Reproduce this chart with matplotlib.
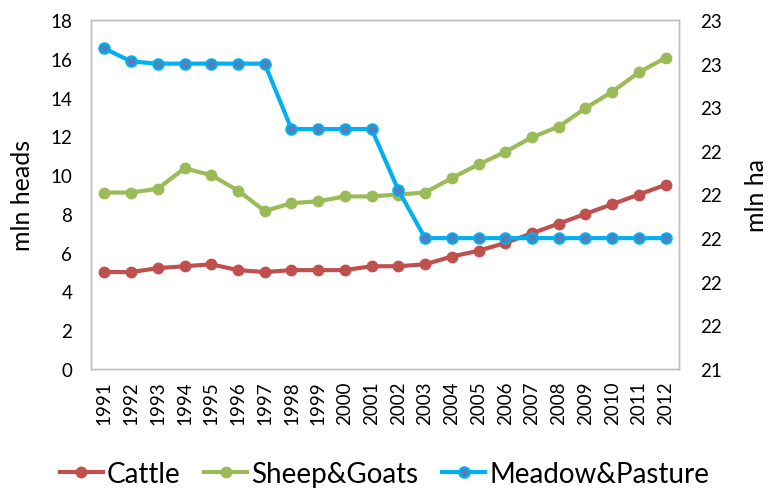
import matplotlib
matplotlib.use("Agg")
import matplotlib.pyplot as plt

plt.rcParams['font.family'] = ['Lato', 'DejaVu Sans']

years = [str(y) for y in range(1991, 2013)]
cattle = [5.0, 5.0, 5.2, 5.3, 5.4, 5.1, 5.0, 5.1, 5.1, 5.1, 5.3,
          5.3, 5.4, 5.8, 6.1, 6.5, 7.0, 7.5, 8.0, 8.5, 9.0, 9.5]
sheep_goats = [9.1, 9.1, 9.3, 10.35, 10.0, 9.2, 8.15, 8.55, 8.65, 8.9, 8.9,
               9.0, 9.1, 9.85, 10.55, 11.2, 11.95, 12.5, 13.45, 14.3, 15.3, 16.05]
meadow = [22.87, 22.81, 22.80, 22.80, 22.80, 22.80, 22.80, 22.50, 22.50, 22.50, 22.50,
          22.22, 22.0, 22.0, 22.0, 22.0, 22.0, 22.0, 22.0, 22.0, 22.0, 22.0]

left_ticks = list(range(0, 19, 2))
right_ticks = [21.4, 21.6, 21.8, 22.0, 22.2, 22.4, 22.6, 22.8, 23.0]

red = '#C0504D'
green = '#9BBB59'
cyan = '#00B0F0'
blue_fill = '#4F81BD'
spine_col = '#BFBFBF'

fig = plt.figure(figsize=(7.69, 4.89), dpi=100)
ax = fig.add_axes([91/769, 1 - 370/489, (679 - 91)/769, (370 - 21)/489])
ax2 = ax.twinx()

x = range(len(years))
h1, = ax.plot(x, cattle, color=red, lw=3, marker='o', ms=7.5, label='Cattle')
h2, = ax.plot(x, sheep_goats, color=green, lw=3, marker='o', ms=7.5, label='Sheep&Goats')
h3, = ax2.plot(x, meadow, color=cyan, lw=3, marker='o', ms=7.5,
               markerfacecolor=blue_fill, markeredgecolor=cyan, markeredgewidth=1.5,
               label='Meadow&Pasture')

ax.set_xlim(-0.5, len(years) - 0.5)
ax.set_ylim(0, 18)
ax.set_yticks(left_ticks)
ax2.set_ylim(21.4, 23.0)
ax2.set_yticks(right_ticks)
ax2.set_yticklabels([f'{v:.0f}' for v in right_ticks])

ax.set_xticks(list(x))
ax.set_xticklabels(years, rotation=90)

for a in (ax, ax2):
    a.tick_params(length=0, labelsize=13.5, colors='#000000')
    for s in a.spines.values():
        s.set_color(spine_col)
        s.set_linewidth(1)
ax.tick_params(axis='y', pad=13.5)
ax2.tick_params(axis='y', pad=15)
ax.tick_params(axis='x', pad=8)

ax.set_ylabel('mln heads', fontsize=18, labelpad=12)
ax2.set_ylabel('mln ha', fontsize=18, labelpad=17)

fig.legend(handles=[h1, h2, h3], loc='center', bbox_to_anchor=(0.5, 1 - 475/489),
           ncol=3, frameon=False, fontsize=20, handlelength=1.55,
           handletextpad=0.15, columnspacing=0.85)

fig.savefig('out.png', dpi=100)
